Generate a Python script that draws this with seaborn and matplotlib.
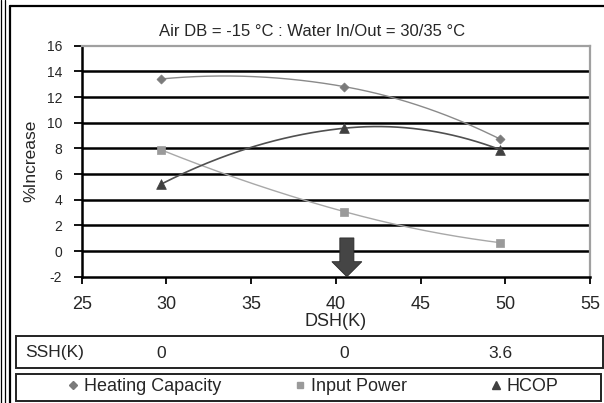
import numpy as np
import pandas as pd
import matplotlib
matplotlib.use("Agg")
import matplotlib.pyplot as plt
import matplotlib.transforms as mtransforms
from matplotlib.lines import Line2D
from matplotlib.patches import Rectangle
import seaborn as sns

# ---- data ----
dsh = [29.7, 40.5, 49.7]
heating_capacity = [13.41, 12.81, 8.72]
input_power = [7.88, 3.07, 0.65]
hcop = [5.22, 9.57, 7.90]
ssh_values = ["0", "0", "3.6"]
series_names = ["Heating Capacity", "Input Power", "HCOP"]
x_ticks = [25, 30, 35, 40, 45, 50, 55]
y_ticks = [-2, 0, 2, 4, 6, 8, 10, 12, 14, 16]
title = "Air DB = -15 °C : Water In/Out = 30/35 °C"

sns.set_style("white")
plt.rcParams["font.family"] = ["Liberation Sans", "DejaVu Sans"]

W, H = 604, 403
fx = lambda px: px / W
fy = lambda py: 1 - py / H

fig = plt.figure(figsize=(6.04, 4.03), dpi=100)
ax = fig.add_axes([fx(81.7), fy(276.7), (590 - 81.7) / W, (276.7 - 45.7) / H])


def smooth_curve(xs, ys, n=80):
    """Smoothed-line rendering (cubic Hermite) through the data points."""
    xs = np.asarray(xs, float)
    ys = np.asarray(ys, float)
    s = np.diff(ys) / np.diff(xs)
    m = np.zeros_like(xs)
    m[1:-1] = (ys[2:] - ys[:-2]) / (xs[2:] - xs[:-2])
    m[0] = 2 * s[0] - m[1]
    m[-1] = 2 * s[-1] - m[-2]
    outx, outy = [], []
    for i in range(len(xs) - 1):
        h = xs[i + 1] - xs[i]
        t = np.linspace(0, 1, n)
        h00 = 2 * t**3 - 3 * t**2 + 1
        h10 = t**3 - 2 * t**2 + t
        h01 = -2 * t**3 + 3 * t**2
        h11 = t**3 - t**2
        outx.append(xs[i] + t * h)
        outy.append(h00 * ys[i] + h10 * h * m[i] + h01 * ys[i + 1] + h11 * h * m[i + 1])
    return np.concatenate(outx), np.concatenate(outy)


styles = {
    "Heating Capacity": dict(line="#8a8a8a", mk="#7a7a7a", marker="D", ms=4.6, lw=1.0, lms=4.0),
    "Input Power": dict(line="#a8a8a8", mk="#9a9a9a", marker="s", ms=5.4, lw=1.0, lms=4.6),
    "HCOP": dict(line="#505050", mk="#404040", marker="^", ms=7.0, lw=1.2, lms=6.0),
}
values = {"Heating Capacity": heating_capacity, "Input Power": input_power, "HCOP": hcop}

for name in series_names:
    st = styles[name]
    cx, cy = smooth_curve(dsh, values[name])
    curve = pd.DataFrame({"DSH": cx, "val": cy})
    sns.lineplot(data=curve, x="DSH", y="val", ax=ax, color=st["line"], lw=st["lw"],
                 estimator=None, sort=False, zorder=3)
    pts = pd.DataFrame({"DSH": dsh, "val": values[name]})
    sns.scatterplot(data=pts, x="DSH", y="val", ax=ax, marker=st["marker"], s=st["ms"] ** 2,
                    color=st["mk"], edgecolor=st["mk"], linewidth=0.5, zorder=4)

# arrow annotation
ax.arrow(40.65, 1.02, 0, -3.02, width=0.83, head_width=1.77, head_length=1.17,
         length_includes_head=True, fc="#454545", ec="#2a2a2a", lw=0.6, zorder=5, clip_on=False)

ax.set_xlim(25, 55)
ax.set_ylim(-2, 16)
ax.set_xticks(x_ticks)
ax.set_yticks(y_ticks)
ax.set_xticklabels([str(v) for v in x_ticks], fontsize=13)
ax.set_yticklabels([str(v) for v in y_ticks], fontsize=10)
ax.tick_params(axis="x", direction="out", length=5, width=1.3, color="black", pad=9, bottom=True)
ax.tick_params(axis="y", direction="out", length=6, width=1.3, color="black", pad=8, left=True)

ax.grid(axis="y", color="black", lw=1.8)
ax.grid(axis="x", visible=False)
ax.set_axisbelow(True)
ticks = ax.yaxis.get_major_ticks()
ticks[-1].gridline.set_visible(False)
ticks[0].gridline.set_visible(False)

for side in ["left", "bottom"]:
    ax.spines[side].set_color("black")
    ax.spines[side].set_linewidth(1.8)
for side in ["top", "right"]:
    ax.spines[side].set_color("#a0a0a0")
    ax.spines[side].set_linewidth(1.6)
    ax.spines[side].set_visible(True)

ax.set_xlabel("DSH(K)", fontsize=13)
ax.xaxis.set_label_coords(0.5, -0.155)
ax.set_ylabel("%Increase", fontsize=12.5)
ax.yaxis.set_label_coords(-0.085, 0.5)

fig.text(fx(312.5), fy(31), title, fontsize=12, ha="center", va="center")

# ---- outer frame lines ----
for xp in [1.2, 4.5]:
    fig.add_artist(Line2D([fx(xp), fx(xp)], [0, 1], color="black", lw=0.9))
fig.add_artist(Line2D([fx(9.5), fx(9.5)], [0, fy(6)], color="black", lw=1.6))
fig.add_artist(Line2D([fx(9.5), 1], [fy(6), fy(6)], color="black", lw=1.6))

# ---- SSH table ----
fig.add_artist(Rectangle((fx(15.5), fy(368)), fx(603) - fx(15.5), fy(335.5) - fy(368),
                         fill=False, ec="#222222", lw=1.4, transform=fig.transFigure))
fig.text(fx(25), fy(353), "SSH(K)", fontsize=12.5, ha="left", va="center")
blend = mtransforms.blended_transform_factory(ax.transData, fig.transFigure)
for xv, sv in zip(dsh, ssh_values):
    fig.text(xv, fy(353), sv, fontsize=12.5, ha="center", va="center", transform=blend)

# ---- legend box ----
fig.add_artist(Rectangle((fx(15.5), fy(401)), fx(601) - fx(15.5), fy(374) - fy(401),
                         fill=False, ec="#222222", lw=1.4, transform=fig.transFigure))
leg_x = {"Heating Capacity": 68, "Input Power": 295, "HCOP": 491}
for name in series_names:
    st = styles[name]
    h = Line2D([], [], marker=st["marker"], linestyle="none", color=st["mk"],
               markersize=st["lms"], markeredgecolor=st["mk"])
    fig.legend([h], [name], loc="center left", bbox_to_anchor=(fx(leg_x[name]), fy(386.5)),
               frameon=False, fontsize=13, handlelength=0.6, handletextpad=0.26,
               borderpad=0, borderaxespad=0)

fig.savefig("out.png", dpi=100)
